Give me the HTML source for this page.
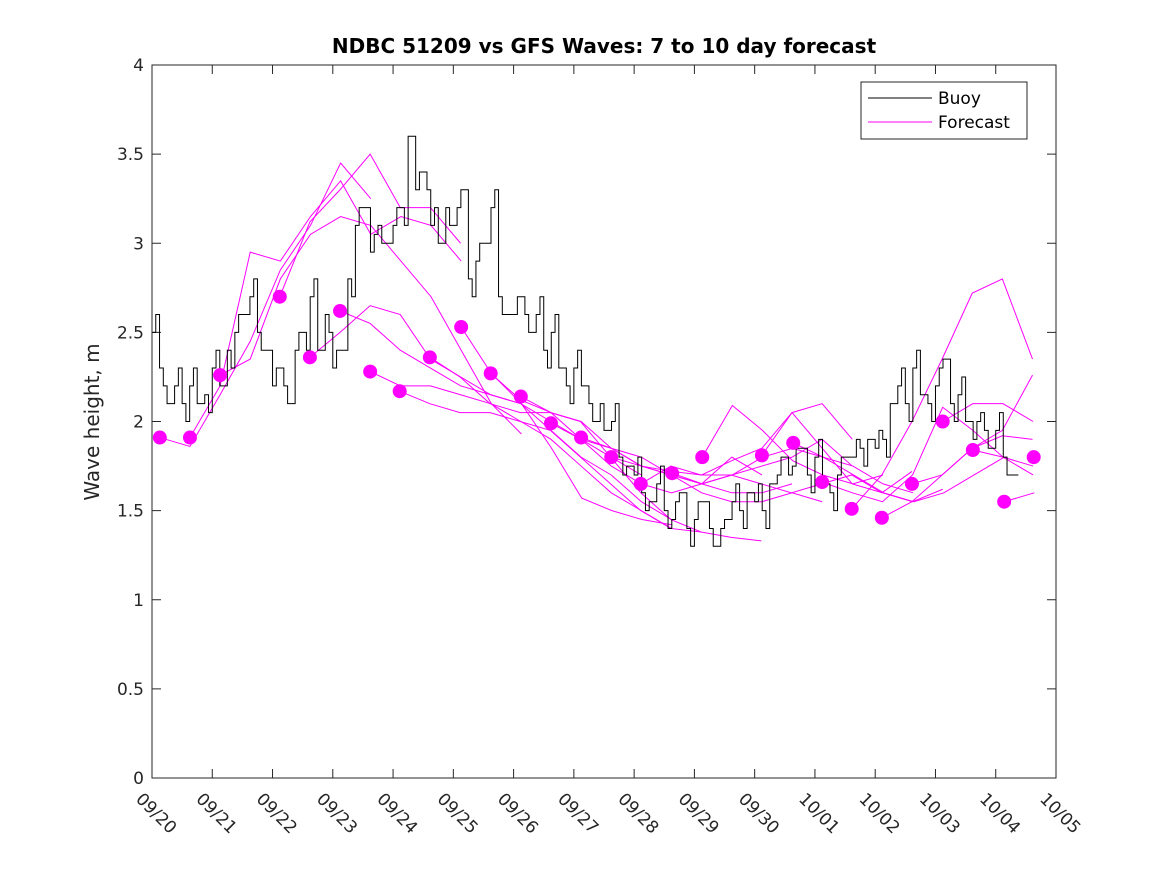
<!DOCTYPE html>
<html><head><meta charset="utf-8"><style>
body{margin:0;background:#fff;font-family:"Liberation Sans","DejaVu Sans",sans-serif}
svg text{font-family:"DejaVu Sans","Liberation Sans",sans-serif}
</style></head><body>
<svg id="c" width="1167" height="875" xmlns="http://www.w3.org/2000/svg">
<rect width="1167" height="875" fill="#fff"/>
<text x="604" y="53" text-anchor="middle" font-size="20" font-weight="bold" fill="#000">NDBC 51209 vs GFS Waves: 7 to 10 day forecast</text>
<text transform="translate(99,422) rotate(-90)" text-anchor="middle" font-size="20" fill="#262626">Wave height, m</text>
<g id="ticks"></g>
<g id="series"></g>
<rect x="152" y="65" width="904" height="713" fill="none" stroke="#262626" stroke-width="1"/>
<g>
<rect x="861" y="82" width="166" height="57" fill="#fff" stroke="#262626"/>
<line x1="868" y1="98" x2="932" y2="98" stroke="#000"/>
<text x="938" y="104" font-size="17" fill="#000">Buoy</text>
<line x1="868" y1="122" x2="932" y2="122" stroke="#f0f"/>
<text x="938" y="128" font-size="17" fill="#000">Forecast</text>
</g>
</svg>
<script>
const xTickLabels=["09/20","09/21","09/22","09/23","09/24","09/25","09/26","09/27","09/28","09/29","09/30","10/01","10/02","10/03","10/04","10/05"];
const yTickValues=[0,0.5,1,1.5,2,2.5,3,3.5,4];
const buoyStep=0.0625;
const buoyBase=[2.5,2.3,2.1,2.2, 2.1,2.2,2.1,2.15, 2.3,2.2,2.4,2.5, 2.6,2.7,2.5,2.4, 2.2,2.3,2.1,2.4, 2.5,2.7,2.4,2.6, 2.3,2.4,2.8,3.1, 3.2,2.95,3.1,3.0, 3.1,3.2,3.6,3.3, 3.4,3.1,3.0,3.2, 3.1,3.3,2.8,2.9, 3.0,3.2,2.7,2.6, 2.6,2.7,2.5,2.6, 2.4,2.5,2.3,2.2, 2.3,2.2,2.1,2.0, 1.95,2.0,1.8,1.75, 1.7,1.6,1.55,1.65, 1.5,1.45,1.6,1.4, 1.45,1.55,1.4,1.3, 1.45,1.55,1.5,1.6, 1.55,1.5,1.65,1.7, 1.8,1.75,1.85,1.7, 1.8,1.65,1.6,1.7, 1.8,1.8,1.85,1.9, 1.85,1.9,2.1,2.2, 2.1,2.3,2.15,2.1, 2.2,2.35,2.1,2.15, 2.0,1.9,2.05,1.85, 1.95,1.8,1.7];
const buoyJitter=[0.1,-0.1,0,0.1,-0.1,0.1,0,-0.1,0.1,0,-0.1,0.1,0,0.1,-0.1,0];
const dotDays=[0.13,0.63,1.13,2.12,2.62,3.12,3.62,4.11,4.61,5.13,5.62,6.12,6.62,7.12,7.62,8.11,8.63,9.13,10.12,10.64,11.12,11.61,12.11,12.61,13.12,13.62,14.14,14.63];
const dotValues=[1.91,1.91,2.26,2.70,2.36,2.62,2.28,2.17,2.36,2.53,2.27,2.14,1.99,1.91,1.80,1.65,1.71,1.80,1.81,1.88,1.66,1.51,1.46,1.65,2.00,1.84,1.55,1.80];
const fcStep=0.5;
const fcStarts=[0.13,0.63,1.13,2.12,2.62,3.12,3.62,4.11,4.61,5.13,5.62,6.12,6.62,7.12,7.62,8.11,8.63,9.13,10.12,10.64,11.12,11.61,12.11,12.61,13.12,13.62,14.14,14.63];
const fcValues=[
[1.91,1.86,2.15,2.45,2.85,3.1,3.45,3.25],
[1.91,2.2,2.95,2.9,3.15,3.35,3.05,3.15,3.1,2.9],
[2.26,2.35,2.8,3.05,3.15,3.1,2.9,2.7,2.4,2.1,1.93],
[2.70,3.12,3.3,3.5,3.2,3.2,3.0],
[2.36,2.5,2.65,2.6,2.35,2.25,2.15,2.1,2.0,1.9,1.8,1.7],
[2.62,2.55,2.4,2.3,2.2,2.15,2.1,1.95,1.8,1.7,1.55,1.45],
[2.28,2.2,2.2,2.15,2.1,2.0,1.9,1.75,1.6,1.5,1.4],
[2.17,2.1,2.05,2.05,2.0,1.95,1.8,1.65,1.5,1.4,1.38],
[2.36,2.25,2.1,2.05,2.05,2.0,1.8,1.6,1.45,1.38,1.35,1.33],
[2.53,2.27,2.1,1.85,1.57,1.5,1.45,1.42],
[2.27,2.12,2.05,1.9,1.75,1.65,1.6,1.65,1.8,1.7],
[2.14,2.05,2.0,1.85,1.75,1.7,1.65,1.6,1.6,1.65],
[1.99,1.9,1.85,1.8,1.7,1.6,1.55,1.55,1.6,1.55],
[1.91,1.85,1.75,1.7,1.65,1.7,1.75,1.8,1.9,1.75],
[1.80,1.75,1.72,1.7,1.78,1.85,2.05,2.1,1.9],
[1.65,1.75,1.7,1.7,1.65,1.6,1.65,1.7,1.6,1.72],
[1.71,1.65,1.7,1.8,1.85,1.8,1.75,1.65,1.6],
[1.80,2.09,1.95,1.78,1.7,1.65,1.7],
[1.81,2.05,1.85,1.65,1.6,1.55,1.62],
[1.88,1.8,1.7,1.6,1.55,1.6,1.7,1.8],
[1.66,1.6,1.55,1.7,2.08,1.95,1.8,1.7],
[1.51,1.7,2.0,2.35,2.72,2.8,2.35],
[1.46,1.55,1.7,1.85,1.95,2.26],
[1.65,1.7,1.85,1.92,1.9,1.85],
[2.00,2.1,2.1,2.0,1.85,1.8,1.75],
[1.84,1.8,1.75,1.6,1.62,1.7],
[1.55,1.6,1.75,1.85],
[1.80,1.85,1.85]
];
const X0=152,X1=1056,Y0=778,Y1=65,DMAX=15,VMAX=4;
function xs(d){return X0+(X1-X0)*d/DMAX;}
function ys(v){return Y0-(Y0-Y1)*v/VMAX;}
const NS="http://www.w3.org/2000/svg";
const tg=document.getElementById('ticks');
const sg=document.getElementById('series');
function mk(t,a,p){const e=document.createElementNS(NS,t);for(const k in a)e.setAttribute(k,a[k]);p.appendChild(e);return e;}
xTickLabels.forEach((lab,i)=>{
 const x=xs(i);
 const l1=mk('line',{x1:x,y1:Y0,x2:x,y2:Y0-9,stroke:'#262626'},tg);
 
 
 const l2=mk('line',{x1:x,y1:Y1,x2:x,y2:Y1+9,stroke:'#262626'},tg);
 
 
 const t=mk('text',{transform:`translate(${x-17},${Y0+22}) rotate(45)`,'font-size':17,fill:'#262626'},tg);
 t.textContent=lab;
 
 
});
yTickValues.forEach(v=>{
 const y=ys(v);
 const l1=mk('line',{x1:X0,y1:y,x2:X0+9,y2:y,stroke:'#262626'},tg);
 
 
 const l2=mk('line',{x1:X1,y1:y,x2:X1-9,y2:y,stroke:'#262626'},tg);
 
 
 const t=mk('text',{x:X0-8,y:y+6,'text-anchor':'end','font-size':17,fill:'#262626'},tg);
 t.textContent=String(v);
 
 
});
fcValues.forEach((arr,i)=>{
 const pts=[];
 arr.forEach((v,j)=>{const d=fcStarts[i]+j*fcStep; if(d<=DMAX) pts.push(xs(d)+','+ys(v));});
 const p=mk('polyline',{points:pts.join(' '),fill:'none',stroke:'#f0f','stroke-width':1},sg);
 
 
});
// buoy: each base value (0.125 day) split into two stair steps with jitter
const bpts=[];
buoyBase.forEach((v,j)=>{
 for(let k=0;k<2;k++){
  const d=(j*2+k)*buoyStep;
  const val=v+(k?buoyJitter[j%buoyJitter.length]:0);
  bpts.push(xs(d)+','+ys(val));
  bpts.push(xs(d+buoyStep)+','+ys(val));
 }
});
const b=mk('polyline',{points:bpts.join(' '),fill:'none',stroke:'#000','stroke-width':1},sg);


dotDays.forEach((d,i)=>{
 const c=mk('circle',{cx:xs(d),cy:ys(dotValues[i]),r:7,fill:'#f0f'},sg);
 
 
});
</script>
</body></html>
